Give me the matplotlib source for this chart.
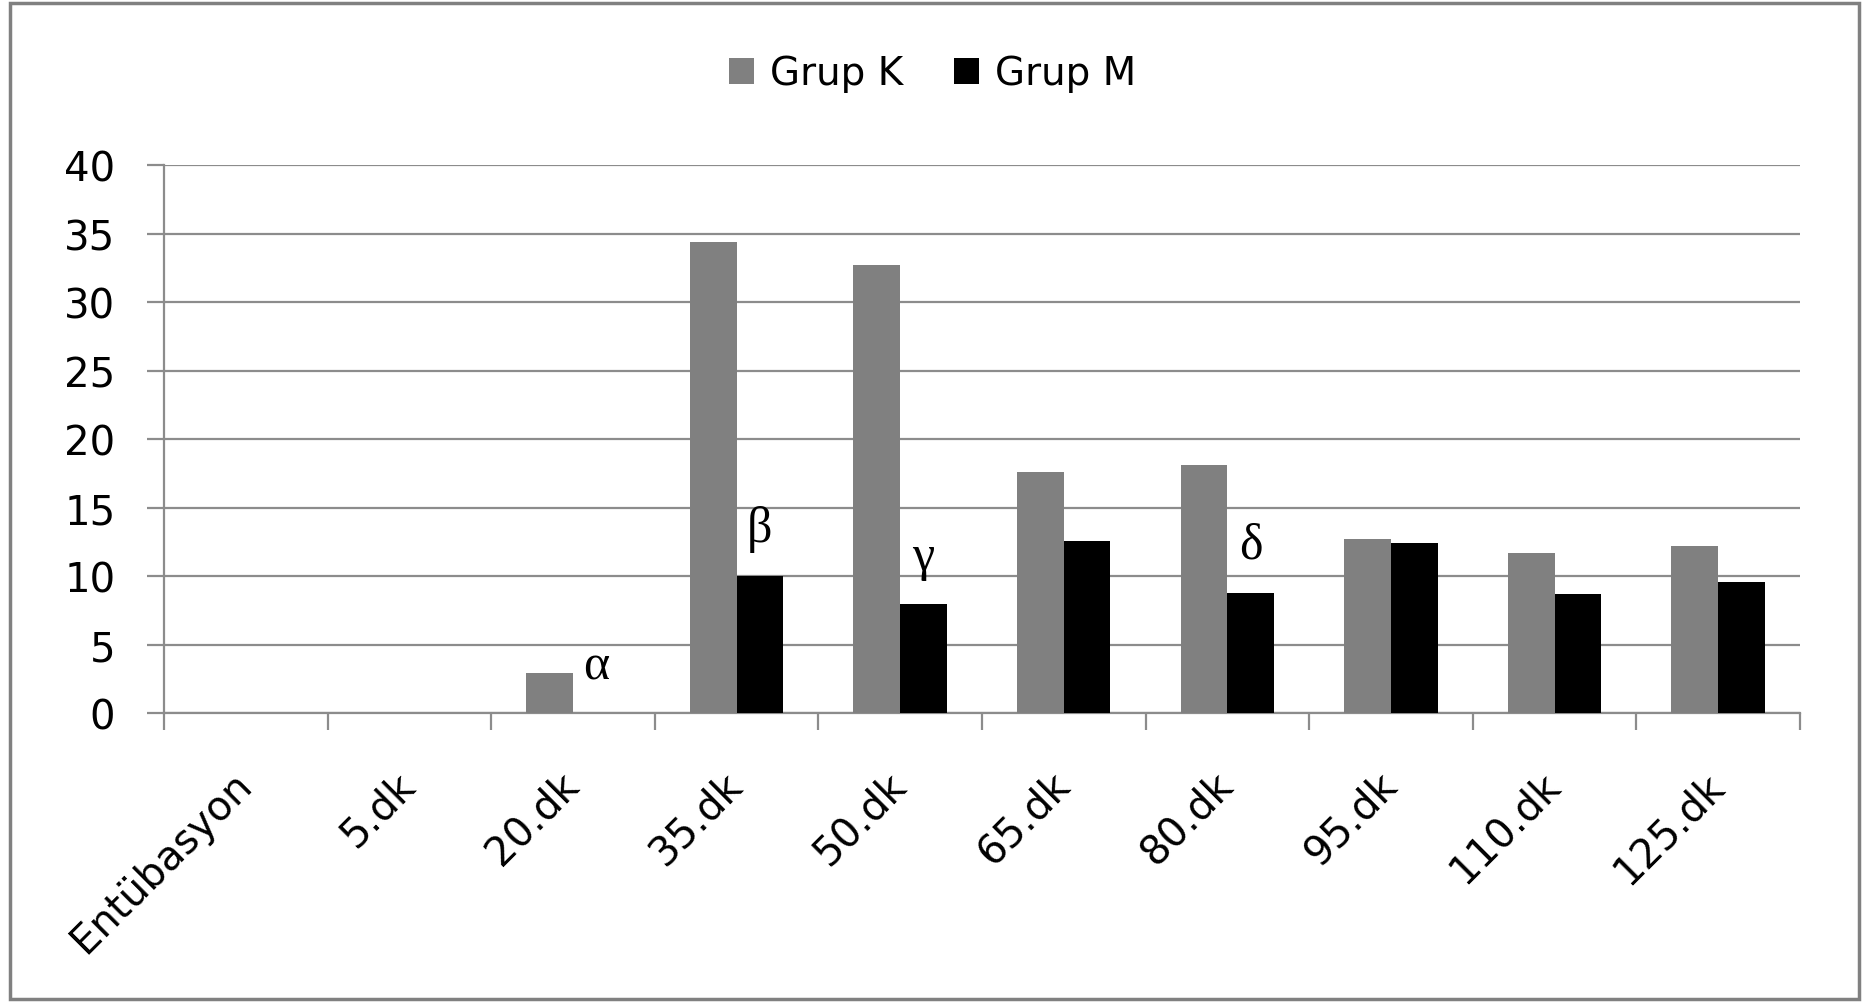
import numpy as np
import matplotlib
matplotlib.use("Agg")
import matplotlib.pyplot as plt
from matplotlib.patches import Rectangle
from matplotlib.ticker import FixedLocator, NullFormatter

plt.rcParams['font.family'] = ['DejaVu Sans']

# Zaman noktalari ve grup degerleri
zamanlar = ['Entübasyon', '5.dk', '20.dk', '35.dk', '50.dk', '65.dk',
            '80.dk', '95.dk', '110.dk', '125.dk']
grup_k = [0, 0, 2.9, 34.4, 32.7, 17.6, 18.1, 12.7, 11.7, 12.2]
grup_m = [0, 0, 0, 10.0, 8.0, 12.6, 8.8, 12.4, 8.7, 9.6]

# anlamlilik isaretleri (zaman indeksi, harf)
isaret_idx = [2, 3, 4, 6]
isaretler = ['α', 'β', 'γ', 'δ']

gri = '#808080'
cizgi = '#8c8c8c'

fig = plt.figure(figsize=(18.65, 10.03), dpi=100)
ax = fig.add_axes([0.0879, 0.2881, 0.9651 - 0.0879, 0.834 - 0.2881])

x = np.arange(len(zamanlar))
w = 1 / 3.5
ax.bar(x - w / 2, grup_k, w, color=gri, label='Grup K', zorder=3)
ax.bar(x + w / 2, grup_m, w, color='black', label='Grup M', zorder=3)

for i, harf in zip(isaret_idx, isaretler):
    ax.annotate(harf, (x[i] + w / 2, grup_m[i]), xytext=(0, 34),
                textcoords='offset points', ha='center', va='center',
                fontsize=36, family='Liberation Serif')

ax.set_xlim(-0.5, len(zamanlar) - 0.5)
ax.set_ylim(0, 40)
ax.set_yticks(np.arange(0, 41, 5))
ax.yaxis.grid(True, color=cizgi, linewidth=1.6, zorder=0)
ax.set_axisbelow(True)

# etiketler kategori ortasinin biraz sagina
ax.set_xticks(x + 0.085)
ax.set_xticklabels(zamanlar, rotation=45, ha='right', va='top')
ax.xaxis.set_minor_locator(FixedLocator(np.arange(-0.5, len(zamanlar), 1)))
ax.xaxis.set_minor_formatter(NullFormatter())
ax.tick_params(axis='x', which='major', length=0, pad=37, labelsize=29)
ax.tick_params(axis='x', which='minor', length=12, width=1.6, color=cizgi)
ax.tick_params(axis='y', length=12, width=1.6, color=cizgi, pad=23, labelsize=29)

for s in ['top', 'right']:
    ax.spines[s].set_visible(False)
for s in ['left', 'bottom']:
    ax.spines[s].set_color(cizgi)
    ax.spines[s].set_linewidth(1.6)

fig.legend(loc='center', bbox_to_anchor=(0.5, 0.926), ncol=2, frameon=False,
           fontsize=28, handlelength=0.65, handleheight=0.65,
           handletextpad=0.4, columnspacing=1.3)

# grafik cercevesi
fig.patches.append(Rectangle((10 / 1865, 3 / 1003), 1849 / 1865, 996 / 1003,
                             transform=fig.transFigure, fill=False,
                             edgecolor=gri, linewidth=2.5))

fig.savefig('out.png', dpi=100)
